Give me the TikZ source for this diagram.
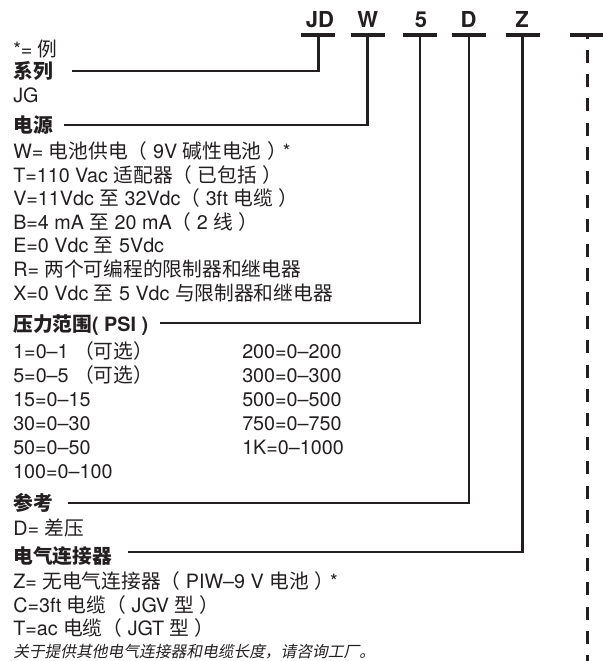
\documentclass[tikz,border=0pt]{standalone}
\usepackage{fontspec}
\setmainfont{TeX Gyre Heros}
\newfontfamily\cjk{Noto Sans CJK SC}
\newfontfamily\cjki[FakeSlant=0.2]{Noto Sans CJK SC}
\newcommand\C[1]{{\cjk #1}}
\definecolor{ink}{HTML}{231F20}
\tikzset{
  txt/.style={anchor=base west, inner sep=0pt, text=ink, font=\fontsize{14.8}{18}\selectfont},
  hd/.style={txt, font=\fontsize{14.8}{18}\selectfont\bfseries},
  footnote/.style={txt, font=\fontsize{11.8}{14}\selectfont},
  code/.style={anchor=base, inner sep=0pt, text=ink, font=\fontsize{16.5}{20}\selectfont\bfseries},
  bar/.style={draw=ink, line width=2.4pt},
  link/.style={draw=ink, line width=1.9pt},
  dashline/.style={draw=ink, line width=2pt, dash pattern=on 9.75pt off 8.4pt, dash phase=6.9pt}
}
\begin{document}
\begin{tikzpicture}[x=0.75pt, y=-0.75pt]
\useasboundingbox (0,0) rectangle (603,661);
% header letters
\node[code] (kJD) at (320,27) {JD};
\node[code] (kW) at (367.7,27) {W};
\node[code] (k5) at (421,27) {5};
\node[code] (kD) at (468.5,27) {D};
\node[code] (kZ) at (522,27) {Z};
% bar centres
\coordinate (bJD) at (318.3,35);
\coordinate (bW) at (367.7,35);
\coordinate (b5) at (420,35);
\coordinate (bD) at (469,35);
\coordinate (bZ) at (522.5,35);
\coordinate (bX) at (587.3,35);
\foreach \b in {bJD,bW,b5,bD,bZ,bX} \draw[bar] (\b) ++(-17,0) -- ++(34,0);
% texts
\node[txt] (note) at (13,56) {*= \C{例}};
\node[hd] (series) at (13,78) {\C{系列}};
\node[txt] (jg) at (13,102) {JG};
\node[hd] (power) at (13,132) {\C{电源}};
\node[txt] (pW) at (13,158) {W= \C{电池供电（} 9V \C{碱性电池} \C{）}\kern-0.2em*};
\node[txt] (pT) at (13,182) {T=110 Vac \C{适配器（} \C{已包括} \C{）}};
\node[txt] (pV) at (13,205.5) {V=11Vdc \C{至} 32Vdc\C{（} 3ft \C{电缆} \C{）}};
\node[txt] (pB) at (13,229) {B=4 mA \C{至} 20 mA\C{（} 2 \C{线} \C{）}};
\node[txt] (pE) at (13,252.5) {E=0 Vdc \C{至} 5Vdc};
\node[txt] (pR) at (13,276.5) {R= \C{两个可编程的限制器和继电器}};
\node[txt] (pX) at (13,300.5) {X=0 Vdc \C{至} 5 Vdc \C{与限制器和继电器}};
\node[hd] (range) at (13,331) {\C{压力范围}( PSI )};
\node[txt] (r1) at (13,358) {1=0–1 \C{（可选）}};
\node[txt] (r5) at (13,382) {5=0–5 \C{（可选）}};
\node[txt] (r15) at (13,406) {15=0–15};
\node[txt] (r30) at (13,430) {30=0–30};
\node[txt] (r50) at (13,454) {50=0–50};
\node[txt] (r100) at (13,478) {100=0–100};
\node[txt] (r200) at (242,358) {200=0–200};
\node[txt] (r300) at (242,382) {300=0–300};
\node[txt] (r500) at (242,406) {500=0–500};
\node[txt] (r750) at (242,430) {750=0–750};
\node[txt] (r1K) at (242,454) {1K=0–1000};
\node[hd] (ref) at (13,510) {\C{参考}};
\node[txt] (rD) at (13,535) {D= \C{差压}};
\node[hd] (elec) at (13,563) {\C{电气连接器}};
\node[txt] (cZ) at (13,588) {Z= \C{无电气连接器（} PIW–9 V \C{电池} \C{）}\kern-0.2em*};
\node[txt] (cC) at (13,612) {C=3ft \C{电缆（} JGV \C{型} \C{）}};
\node[txt] (cT) at (13,635.5) {T=ac \C{电缆（} JGT \C{型} \C{）}};
\node[footnote] (foot) at (13,657) {\cjki 关于提供其他电气连接器和电缆长度，请咨询工厂。};
% connector starts
\coordinate (sJD) at (71.7,71);
\coordinate (sW) at (64,125);
\coordinate (s5) at (160,323);
\coordinate (sD) at (68,503);
\coordinate (sZ) at (128,552);
\coordinate (dEnd) at (587.3,661);
\draw[link] (sJD) -| (bJD);
\draw[link] (sW) -| (bW);
\draw[link] (s5) -| (b5);
\draw[link] (sD) -| (bD);
\draw[link] (sZ) -| (bZ);
\draw[dashline] (bX) -- (dEnd);
\end{tikzpicture}
\end{document}
